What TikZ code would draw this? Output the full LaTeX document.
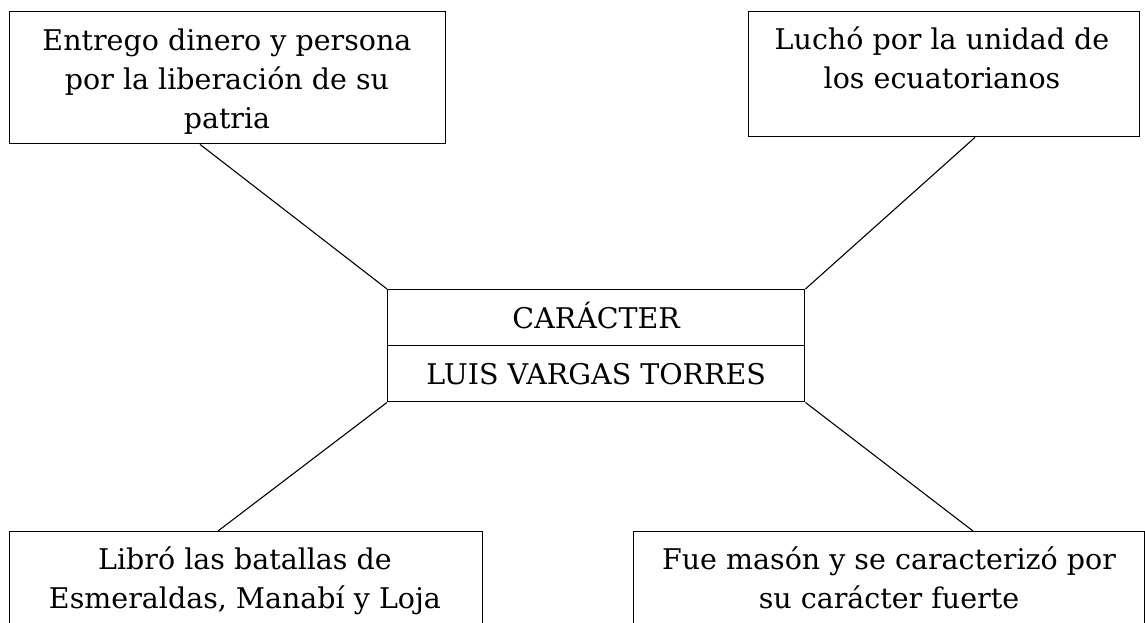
\documentclass[tikz,border=0pt]{standalone}
\usepackage{fontspec}
\setmainfont{DejaVu Serif}
\usetikzlibrary{calc}
\begin{document}
\begin{tikzpicture}[x=1pt,y=-1pt,
  box/.style={draw=black,line width=1.4pt,inner sep=0pt,anchor=north west},
  txt/.style={align=center,inner sep=0pt,anchor=base,font=\fontsize{28.5}{39}\selectfont},
  link/.style={draw=black,line width=1.1pt}]
\useasboundingbox (0,0) rectangle (1145,622);
\begin{scope}
\clip (0,0) rectangle (1145,622);
% boxes
\node[box,minimum width=436,minimum height=132] (tl) at (9,11) {};
\node[box,minimum width=391,minimum height=125] (tr) at (748,11) {};
\node[box,minimum width=417,minimum height=56,font=\fontsize{28.5}{39}\selectfont,text height=21,text depth=0] (ca) at (387,289) {CARÁCTER};
\node[box,minimum width=417,minimum height=56,font=\fontsize{28.5}{39}\selectfont,text height=21,text depth=0] (cb) at (387,345) {LUIS VARGAS TORRES};
\node[box,minimum width=473,minimum height=130] (bl) at (9,531) {};
\node[box,minimum width=511,minimum height=130] (br) at (633,531) {};
% texts (base = baseline of last line)
\node[txt] (tlt) at (227,128) {Entrego dinero y persona\\por la liberación de su\\patria};
\node[txt] (trt) at (942,88) {Luchó por la unidad de\\los ecuatorianos};
\node[txt] (blt) at (245,608) {Libró las batallas de\\Esmeraldas, Manabí y Loja};
\node[txt] (brt) at (889,608) {Fue masón y se caracterizó por\\su carácter fuerte};
% connectors
\draw[link] ($(tl.south west)+(191,0)$) -- (ca.north west);
\draw[link] ($(tr.south west)+(227,0)$) -- (ca.north east);
\draw[link] (cb.south west) -- ($(bl.north west)+(209,0)$);
\draw[link] (cb.south east) -- ($(br.north west)+(340,0)$);
\end{scope}
\end{tikzpicture}
\end{document}
